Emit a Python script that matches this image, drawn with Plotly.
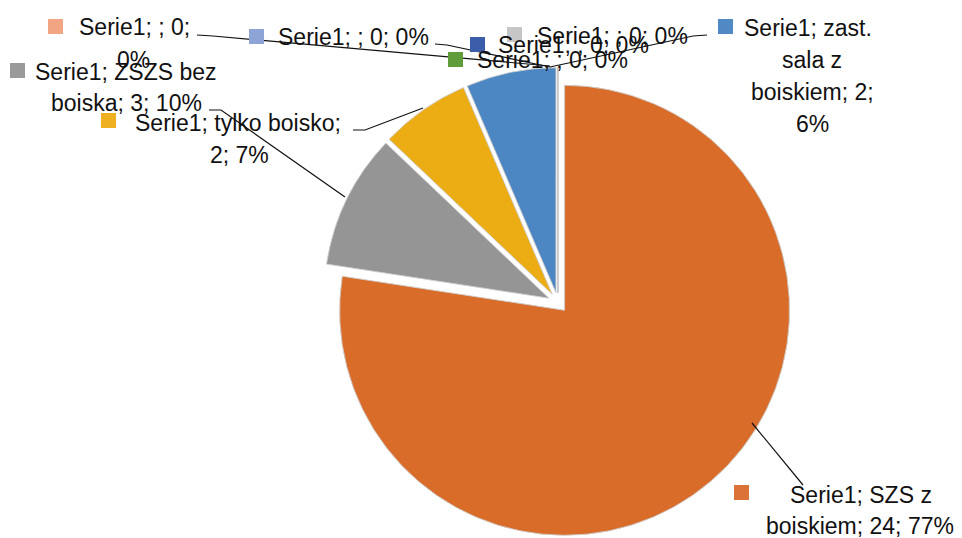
import plotly.graph_objects as go

# ---------------- data ----------------
series_name = "Serie1"
categories = ["SZS z boiskiem", "ZSZS bez boiska", "tylko boisko", "zast. sala z boiskiem",
              "", "", "", "", ""]
values = [24, 3, 2, 2, 0, 0, 0, 0, 0]
pct_labels = ["77%", "10%", "7%", "6%", "0%", "0%", "0%", "0%", "0%"]

# ---------------- styles / layout ----------------
OFF = 8                      # page body margin
W, H = 962 - OFF, 538 - OFF
colors = ["#D96C29", "#959595", "#EBAC14", "#4D87C3",
          "#F2A583", "#8EA3D6", "#3C5EAA", "#C6C6C6", "#5F9D3B"]
key_colors = ["#DB7236", "#9A9A9A", "#EEB01E", "#5189C4",
              "#F2A583", "#8EA3D6", "#3C5EAA", "#C6C6C6", "#5F9D3B"]
FONT = "Liberation Sans"
FS = 23
TXT = "#111111"

# pie geometry (screen pixels)
cx, cy, R, PULL = 558, 302.6, 225, 0.045
box = 2 * R * (1 + PULL)


def px(x):
    return (x - OFF) / W


def py(y):
    return 1 - (y - OFF) / H


# label layout: words per line, centre x of lines, first line centre y, line gap,
# key square (left, top), leader path points
label_layout = [
    dict(split=[3, 3], xc=[861, 860], y0=495, gap=31, key=(734, 485),
         leader=[(803, 485), (752, 423)]),
    dict(split=[3, 3], xc=[126, 126], y0=72, gap=31, key=(10, 63),
         leader=[(209, 110), (221, 110), (345, 197)]),
    dict(split=[3, 2], xc=[238, 239], y0=123, gap=32, key=(101, 113),
         leader=[(353, 130), (365, 130), (423, 108)]),
    dict(split=[2, 2, 2, 1], xc=[808, 812, 812, 812], y0=28, gap=32, key=(718, 19),
         leader=None),
    dict(split=[3, 1], xc=[134, 133], y0=27, gap=33, key=(48, 19),
         leader=[(197, 35), (213, 36), (550, 66)]),
    dict(split=[4], xc=[353], y0=37, gap=32, key=(249, 29),
         leader=[(435, 44), (447, 45), (550, 67)]),
    dict(split=[4], xc=[573], y0=45, gap=32, key=(470, 37),
         leader=None),
    dict(split=[4], xc=[612], y0=36, gap=32, key=(507, 27),
         leader=[(707, 35), (693, 36), (550, 67)]),
    dict(split=[4], xc=[552], y0=60, gap=32, key=(448, 52),
         leader=None),
]

fig = go.Figure()
fig.add_trace(go.Pie(
    labels=[f"{i}: {c}" for i, c in enumerate(categories)],
    values=values,
    sort=False,
    direction="clockwise",
    rotation=0,
    pull=[PULL] * len(values),
    marker=dict(colors=colors, line=dict(color="rgba(205,205,205,0.9)", width=1)),
    textinfo="none",
    hoverinfo="label+value+percent",
    showlegend=False,
    domain=dict(x=[px(cx - box / 2), px(cx + box / 2)],
                y=[py(cy + box / 2), py(cy - box / 2)]),
))

annotations = []
shapes = []
draw_order = [4, 5, 7, 6, 8, 1, 2, 3, 0]
for i in draw_order:
    lay = label_layout[i]
    if categories[i]:
        words = f"{series_name}; {categories[i]}; {values[i]}; {pct_labels[i]}".split(" ")
    else:
        words = [f"{series_name};", ";", f"{values[i]};", pct_labels[i]]
    lines, k = [], 0
    for n in lay["split"]:
        lines.append(" ".join(words[k:k + n]))
        k += n
    # leader line
    if lay["leader"]:
        pts = lay["leader"]
        path = "M " + " L ".join(f"{px(x)},{py(y)}" for x, y in pts)
        shapes.append(dict(type="path", path=path, xref="paper", yref="paper",
                           line=dict(color="#111111", width=1.2)))
    # key square
    kx, ky = lay["key"]
    shapes.append(dict(type="rect", xref="paper", yref="paper",
                       x0=px(kx), x1=px(kx + 15), y0=py(ky + 15), y1=py(ky),
                       fillcolor=key_colors[i], line=dict(width=0)))
    for j, line in enumerate(lines):
        annotations.append(dict(
            text=line, x=px(lay["xc"][j]), y=py(lay["y0"] + j * lay["gap"]),
            xref="paper", yref="paper", xanchor="center", yanchor="middle",
            showarrow=False, font=dict(family=FONT, size=FS, color=TXT)))

fig.update_layout(
    width=W, height=H,
    margin=dict(l=0, r=0, t=0, b=0),
    paper_bgcolor="white", plot_bgcolor="white",
    annotations=annotations, shapes=shapes,
)
fig.write_html("out.html")
